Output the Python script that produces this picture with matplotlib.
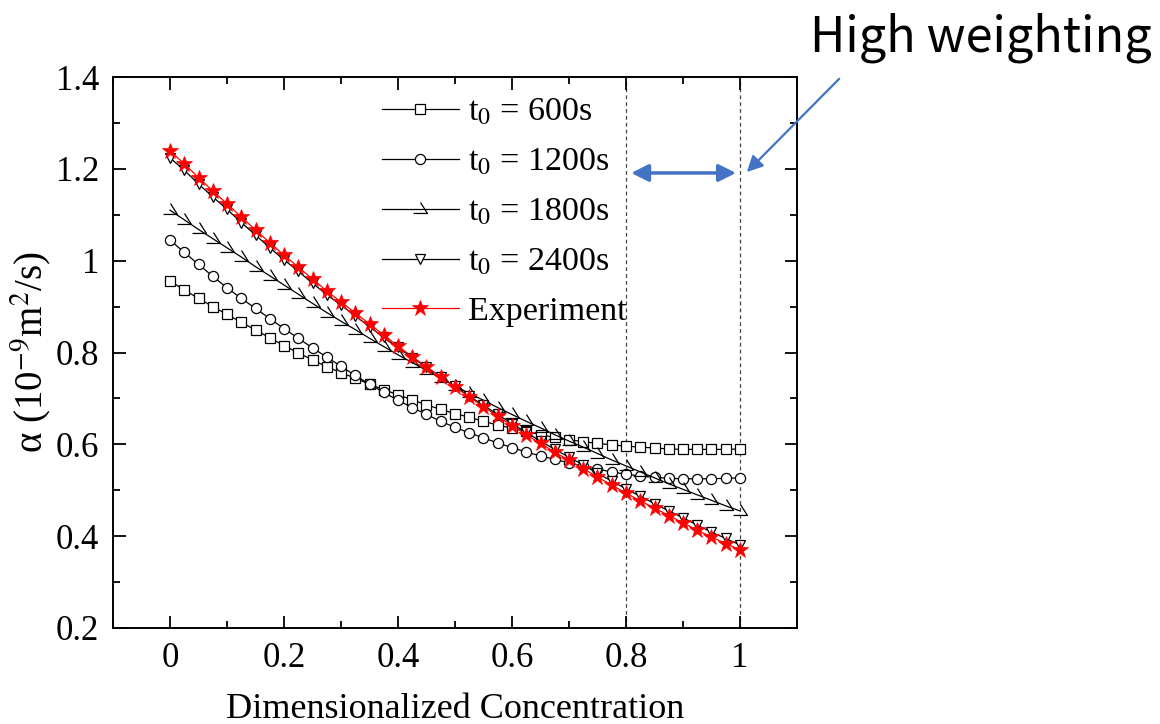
import numpy as np
import matplotlib
matplotlib.use("Agg")
import matplotlib.pyplot as plt
from matplotlib.path import Path
from matplotlib.ticker import MultipleLocator

plt.rcParams['font.family'] = ['Liberation Serif', 'DejaVu Serif']
plt.rcParams['mathtext.fontset'] = 'stix'

# 無次元濃度 (0 ～ 1, 0.025 刻み)
conc = [i * 0.025 for i in range(41)]

alpha_600 = [0.956, 0.936, 0.918, 0.900, 0.883, 0.866, 0.849, 0.832, 0.815, 0.799,
             0.784, 0.769, 0.756, 0.744, 0.731, 0.719, 0.708, 0.697, 0.686, 0.676,
             0.667, 0.659, 0.650, 0.642, 0.635, 0.628, 0.621, 0.615, 0.610, 0.606,
             0.602, 0.599, 0.596, 0.594, 0.592, 0.590, 0.589, 0.589, 0.589, 0.589,
             0.590]
alpha_1200 = [1.045, 1.018, 0.992, 0.966, 0.941, 0.918, 0.896, 0.874, 0.852, 0.831,
              0.810, 0.790, 0.770, 0.750, 0.731, 0.713, 0.696, 0.680, 0.665, 0.650,
              0.637, 0.625, 0.614, 0.603, 0.593, 0.583, 0.575, 0.567, 0.560, 0.552,
              0.546, 0.540, 0.535, 0.531, 0.528, 0.526, 0.525, 0.525, 0.525, 0.526,
              0.527]
alpha_1800 = [1.110, 1.089, 1.068, 1.048, 1.028, 1.008, 0.987, 0.967, 0.947, 0.927,
              0.907, 0.887, 0.868, 0.850, 0.831, 0.813, 0.795, 0.778, 0.761, 0.744,
              0.727, 0.711, 0.696, 0.680, 0.665, 0.650, 0.636, 0.621, 0.607, 0.594,
              0.580, 0.566, 0.553, 0.540, 0.527, 0.514, 0.502, 0.490, 0.478, 0.466,
              0.455]
alpha_2400 = [1.224, 1.197, 1.167, 1.139, 1.112, 1.083, 1.056, 1.028, 1.002, 0.977,
              0.951, 0.926, 0.903, 0.880, 0.856, 0.833, 0.811, 0.789, 0.768, 0.747,
              0.726, 0.705, 0.685, 0.665, 0.645, 0.626, 0.607, 0.589, 0.572, 0.555,
              0.537, 0.520, 0.503, 0.487, 0.471, 0.455, 0.440, 0.424, 0.409, 0.395,
              0.381]
alpha_exp = [1.239, 1.211, 1.181, 1.152, 1.124, 1.095, 1.067, 1.039, 1.012, 0.986,
             0.960, 0.934, 0.910, 0.886, 0.862, 0.838, 0.814, 0.791, 0.769, 0.747,
             0.725, 0.703, 0.682, 0.661, 0.641, 0.621, 0.602, 0.583, 0.565, 0.547,
             0.529, 0.511, 0.494, 0.477, 0.461, 0.445, 0.429, 0.413, 0.398, 0.384,
             0.370]

labels = ['t$_0$ = 600s', 't$_0$ = 1200s', 't$_0$ = 1800s', 't$_0$ = 2400s', 'Experiment']
weight_lines = [0.8, 1.0]

# 半矢印マーカー (Origin 風)
half_arrow = Path([(0, 7), (7, -4), (-7, -4)],
                  [Path.MOVETO, Path.LINETO, Path.LINETO])

fig = plt.figure(figsize=(11.6, 7.24), dpi=100)
ax = fig.add_axes([113 / 1160, 96 / 724, 684 / 1160, 551 / 724])

lw = 0.9
ax.plot(conc, alpha_600, '-', color='black', lw=lw, marker='s', ms=6.5,
        mfc='white', mec='black', mew=0.9, label=labels[0], zorder=3)
ax.plot(conc, alpha_1200, '-', color='black', lw=lw, marker='o', ms=7.3,
        mfc='white', mec='black', mew=0.9, label=labels[1], zorder=3)
ax.plot(conc, alpha_1800, '-', color='black', lw=lw, marker=half_arrow, ms=10,
        mfc='none', mec='black', mew=0.9, label=labels[2], zorder=3)
ax.plot(conc, alpha_2400, '-', color='black', lw=lw, marker='v', ms=7.5,
        mfc='white', mec='black', mew=0.9, label=labels[3], zorder=4)
ax.plot(conc, alpha_exp, '-', color='red', lw=lw, marker='*', ms=12,
        mfc='red', mec='red', mew=0.5, label=labels[4], zorder=5)

for xv in weight_lines:
    ax.axvline(xv, color='#444444', lw=0.9, dashes=(3, 2.5), zorder=1)

ax.set_xlim(-0.1, 1.1)
ax.set_ylim(0.2, 1.4)
ax.xaxis.set_minor_locator(MultipleLocator(0.1))
ax.yaxis.set_minor_locator(MultipleLocator(0.1))
ax.set_xticks([0, 0.2, 0.4, 0.6, 0.8, 1.0])
ax.set_xticklabels(['0', '0.2', '0.4', '0.6', '0.8', '1'])
ax.set_yticks([0.2, 0.4, 0.6, 0.8, 1.0, 1.2, 1.4])
ax.set_yticklabels(['0.2', '0.4', '0.6', '0.8', '1', '1.2', '1.4'])
ax.tick_params(which='both', direction='in', top=True, right=True, width=1.3,
               labelsize=25)
ax.tick_params(which='major', length=9, pad=10)
ax.tick_params(which='minor', length=5)
for sp in ax.spines.values():
    sp.set_linewidth(1.4)

ax.set_xlabel('Dimensionalized Concentration', fontsize=26, labelpad=13)
ax.set_ylabel('α (10$^{-9}$m$^{2}$/s)', fontsize=28, labelpad=2)

leg = ax.legend(loc='upper left', bbox_to_anchor=(382 / 1160, 1 - 97 / 724),
                bbox_transform=fig.transFigure, frameon=False, fontsize=24.5,
                handlelength=2.25, handletextpad=0.27, labelspacing=0.56,
                borderpad=0, borderaxespad=0)

# 重み付け区間の矢印
blue = '#4472C4'
ax.annotate('', xy=(0.809, 1.191), xytext=(0.993, 1.191),
            arrowprops=dict(arrowstyle='<|-|>', color=blue, lw=2.5,
                            mutation_scale=26, shrinkA=0, shrinkB=0))
ax.annotate('', xy=(1.012, 1.193), xytext=(1.174, 1.396),
            arrowprops=dict(arrowstyle='-|>', color=blue, lw=1.6,
                            mutation_scale=24, shrinkA=0, shrinkB=0),
            annotation_clip=False)
fig.text(810 / 1160, 1 - 38 / 724, 'High weighting', fontsize=35,
         family=['Noto Sans CJK SC', 'DejaVu Sans'], ha='left', va='center')

fig.savefig('out.png', dpi=100)
